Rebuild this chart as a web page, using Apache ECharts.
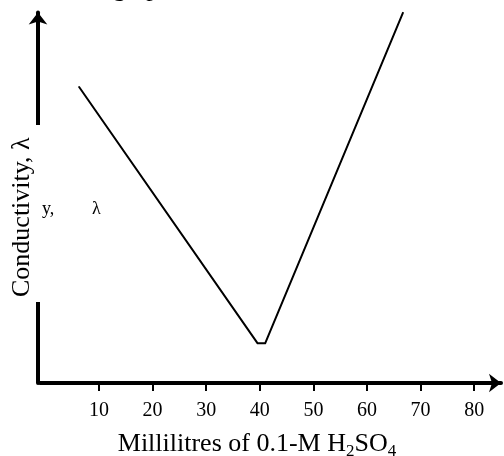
<!DOCTYPE html>
<html><head><meta charset="utf-8">
<script src="https://cdn.jsdelivr.net/npm/echarts@6/dist/echarts.min.js"></script>
<style>html,body{margin:0;padding:0;background:#fff}#c{width:504px;height:456px}</style>
</head><body><div id="c"></div>
<script>
// Volume of 0.1-M H2SO4 added (mL) and conductivity (arbitrary units)
const volumes = [6.3, 39.6, 41.0, 66.7];
const conductivity = [79.9, 10.7, 10.7, 99.9];
const tickValues = [10, 20, 30, 40, 50, 60, 70, 80];

const serif = '"Liberation Serif", "Times New Roman", serif';
const chart = echarts.init(document.getElementById('c'), null, {renderer: 'canvas'});
chart.setOption({
  backgroundColor: '#fff',
  animation: false,
  grid: {left: 40, right: 3, top: 12.5, bottom: 73, containLabel: false, outerBoundsMode: 'none'},
  xAxis: [{
    type: 'value', min: -1, max: 85,
    axisLine: {show: true, onZero: false, lineStyle: {color: '#000', width: 4},
      symbol: ['none', 'arrow'], symbolSize: [14, 12]},
    axisTick: {show: false}, axisLabel: {show: false}, splitLine: {show: false}
  }, {
    type: 'value', min: -1, max: 85, position: 'bottom', offset: 4,
    axisLine: {show: false},
    axisTick: {show: true, length: 8, lineStyle: {color: '#000', width: 2}, customValues: tickValues},
    axisLabel: {show: true, customValues: tickValues, margin: 14, color: '#000', fontFamily: serif, fontSize: 20},
    splitLine: {show: false},
    name: 'Millilitres of 0.1-M H{sub|2}SO{sub|4}',
    nameLocation: 'middle', nameGap: 41, nameMoveOverlap: false,
    nameTextStyle: {color: '#000', fontFamily: serif, fontSize: 26, lineHeight: 32, padding: [0, 27, 0, 0],
      rich: {sub: {fontFamily: serif, fontSize: 17, lineHeight: 17, verticalAlign: 'bottom', color: '#000'}}}
  }],
  yAxis: {
    type: 'value', min: 0, max: 100, offset: 2,
    axisLine: {show: true, onZero: false, lineStyle: {color: '#000', width: 4},
      symbol: ['none', 'arrow'], symbolSize: [14, 12]},
    axisTick: {show: false}, axisLabel: {show: false}, splitLine: {show: false}
  },
  graphic: [
    {type: 'rect', z: 50, shape: {x: 33, y: 125, width: 10, height: 177}, style: {fill: '#fff'}},
    {type: 'text', z: 60, x: 22, y: 297, rotation: Math.PI / 2,
      style: {text: 'Conductivity, λ', font: '26px ' + serif, fill: '#000', align: 'left', verticalAlign: 'middle'}},
    {type: 'text', x: 113, y: -24, z: 100, style: {text: 'graph', font: '26px ' + serif, fill: '#000', verticalAlign: 'top'}},
    {type: 'text', x: 42, y: 200, z: 100, style: {text: 'y,', font: '18px ' + serif, fill: '#000', verticalAlign: 'top'}},
    {type: 'text', x: 92, y: 200, z: 100, style: {text: 'λ', font: '18px ' + serif, fill: '#000', verticalAlign: 'top'}}
  ],
  series: [{
    type: 'line', xAxisIndex: 0, yAxisIndex: 0,
    data: volumes.map((v, i) => [v, conductivity[i]]),
    symbol: 'none',
    lineStyle: {color: '#000', width: 2, cap: 'round', join: 'round'}
  }]
});
</script></body></html>
